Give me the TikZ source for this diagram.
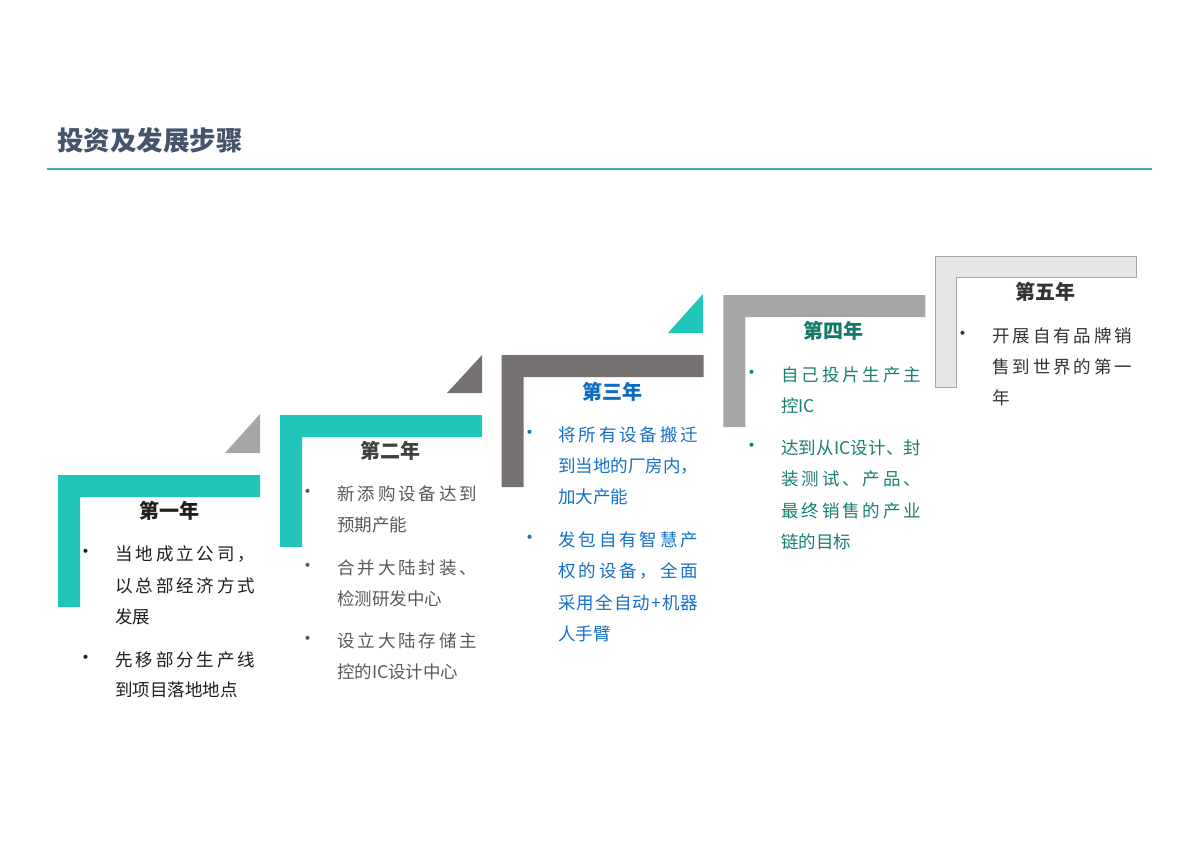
\documentclass[tikz,border=0pt]{standalone}
\usepackage{fontspec}
\setmainfont{Noto Sans CJK SC}
\definecolor{tealL}{HTML}{22C5BA}
\definecolor{grayL}{HTML}{A6A6A6}
\definecolor{darkL}{HTML}{767171}
\definecolor{lightL}{HTML}{E7E6E6}
\definecolor{headC}{HTML}{44546A}
\definecolor{ruleC}{HTML}{4AA8B0}
\definecolor{cA}{HTML}{1E1E1E}
\definecolor{cBt}{HTML}{404040}
\definecolor{cB}{HTML}{595959}
\definecolor{cCt}{HTML}{0E6CC0}
\definecolor{cC}{HTML}{1570C8}
\definecolor{cDt}{HTML}{117A6D}
\definecolor{cD}{HTML}{1A7F73}
\definecolor{cE}{HTML}{333333}
\makeatletter
\newcommand\jl[1]{\hbox to 140pt{\let\jsep\relax\@tfor\jc:=#1\do{\jsep\jc\let\jsep\hfill}}}
\makeatother
\tikzset{
  tl/.style={anchor=west, inner sep=0pt, text height=15pt, text depth=2pt, font=\fontsize{17.5}{20}\selectfont},
  bul/.style={inner sep=0pt, font=\fontsize{19}{20}\selectfont},
  yt/.style={inner sep=0pt, text height=15pt, text depth=3pt, font=\fontsize{20}{22}\selectfont\bfseries},
}
\newcommand\stepL[3]{%
  \fill[#3] (#1,#2) -- ++(202,0) -- ++(0,22) -- ++(-180,0) -- ++(0,110) -- ++(-22,0) -- cycle;}
\begin{document}
\begin{tikzpicture}[x=1pt,y=-1pt]
\useasboundingbox[fill=white] (0,0) rectangle (1200,849);
% heading
\node[anchor=west, inner sep=0pt, text=headC, font=\fontsize{26.5}{28}\selectfont\bfseries] (head) at (57,140) {投资及发展步骤};
\coordinate (rl) at (47,169);
\coordinate (rr) at (1152,169);
\draw[ruleC, line width=1.3pt] (rl) -- (rr);
% L shapes
\stepL{58}{475}{tealL}
\stepL{280}{415}{tealL}
\stepL{501.7}{355}{darkL}
\stepL{723.3}{295}{grayL}
\filldraw[fill=lightL, draw=grayL, line width=0.9pt] (935,256) -- ++(201,0) -- ++(0,21) -- ++(-180,0) -- ++(0,110) -- ++(-21,0) -- cycle;
% triangles
\fill[grayL] (225,453) -- (260,453) -- (260,414) -- cycle;
\fill[darkL] (447,393) -- (482,393) -- (482,355) -- cycle;
\fill[tealL] (668,333) -- (703,333) -- (703,294) -- cycle;
% step 1
\node[yt, text=cA] (t1) at (169,512) {第一年};
\node[bul, text=cA] (b1a) at (86,554) {•};
\node[tl, text=cA] (l1a) at (115,554) {\jl{当地成立公司，}};
\node[tl, text=cA] (l1b) at (115,586) {\jl{以总部经济方式}};
\node[tl, text=cA] (l1c) at (115,617) {发展};
\node[bul, text=cA] (b1b) at (86,660) {•};
\node[tl, text=cA] (l1d) at (115,660) {\jl{先移部分生产线}};
\node[tl, text=cA] (l1e) at (115,690) {到项目落地地点};
% step 2
\node[yt, text=cBt] (t2) at (390,452) {第二年};
\node[bul, text=cB] (b2a) at (308,494) {•};
\node[tl, text=cB] (l2a) at (337,494) {\jl{新添购设备达到}};
\node[tl, text=cB] (l2b) at (337,525) {预期产能};
\node[bul, text=cB] (b2b) at (308,568) {•};
\node[tl, text=cB] (l2c) at (337,568) {\jl{合并大陆封装、}};
\node[tl, text=cB] (l2d) at (337,599) {检测研发中心};
\node[bul, text=cB] (b2c) at (308,641) {•};
\node[tl, text=cB] (l2e) at (337,641) {\jl{设立大陆存储主}};
\node[tl, text=cB] (l2f) at (337,672) {控的IC设计中心};
% step 3
\node[yt, text=cCt] (t3) at (612,393) {第三年};
\node[bul, text=cC] (b3a) at (530,435) {•};
\node[tl, text=cC] (l3a) at (558,435) {\jl{将所有设备搬迁}};
\node[tl, text=cC] (l3b) at (558,466) {\jl{到当地的厂房内，}};
\node[tl, text=cC] (l3c) at (558,497) {加大产能};
\node[bul, text=cC] (b3b) at (530,540) {•};
\node[tl, text=cC] (l3d) at (558,540) {\jl{发包自有智慧产}};
\node[tl, text=cC] (l3e) at (558,571) {\jl{权的设备，全面}};
\node[tl, text=cC] (l3f) at (558,603) {\jl{采用全自动+机器}};
\node[tl, text=cC] (l3g) at (558,634) {人手臂};
% step 4
\node[yt, text=cDt] (t4) at (833,332) {第四年};
\node[bul, text=cD] (b4a) at (752,375) {•};
\node[tl, text=cD] (l4a) at (781,375) {\jl{自己投片生产主}};
\node[tl, text=cD] (l4b) at (781,406) {控IC};
\node[bul, text=cD] (b4b) at (752,448) {•};
\node[tl, text=cD] (l4c) at (781,448) {\jl{达到从{IC}设计、封}};
\node[tl, text=cD] (l4d) at (781,479) {\jl{装测试、产品、}};
\node[tl, text=cD] (l4e) at (781,511) {\jl{最终销售的产业}};
\node[tl, text=cD] (l4f) at (781,542) {链的目标};
% step 5
\node[yt, text=cE] (t5) at (1045,293) {第五年};
\node[bul, text=cE] (b5a) at (963,336) {•};
\node[tl, text=cE] (l5a) at (992,336) {\jl{开展自有品牌销}};
\node[tl, text=cE] (l5b) at (992,367) {\jl{售到世界的第一}};
\node[tl, text=cE] (l5c) at (992,398) {年};
\end{tikzpicture}
\end{document}
